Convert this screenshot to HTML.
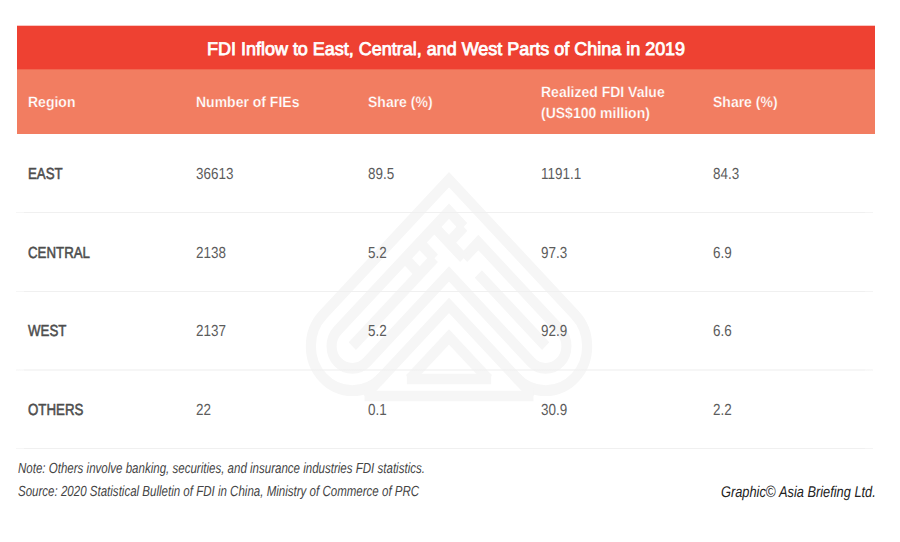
<!DOCTYPE html>
<html><head><meta charset="utf-8">
<style>
html,body{margin:0;padding:0;background:#fff;}
body{width:900px;height:542px;position:relative;overflow:hidden;font-family:"Liberation Sans",sans-serif;text-rendering:geometricPrecision;}
.a{position:absolute;white-space:nowrap;line-height:1;transform-origin:0 0;}
#red{position:absolute;left:17px;top:25px;width:858px;height:45px;background:linear-gradient(to bottom,#fac6c2 0,#fac6c2 1px,#ee4132 1px,#ee4132 44px,#f16851 44px);}
#sal{position:absolute;left:17px;top:70px;width:858px;height:64px;background:#f27d61;}
.title{color:#fff;font-size:18.3px;-webkit-text-stroke:0.8px #fff;transform:scaleX(0.983);}
.hd{color:#fff;font-size:15px;font-weight:bold;transform:scaleX(0.933);-webkit-text-stroke:0.25px #f27d61;}
.lab{color:#4d4d4d;font-size:16px;-webkit-text-stroke:0.55px #4d4d4d;transform:scaleX(0.83);}
.num{color:#5c5c5c;font-size:16px;transform:scaleX(0.84);}
.line{position:absolute;left:16px;width:857px;height:1px;background:linear-gradient(to right,#f6f6f6 0,#f6f6f6 8px,#f0f0f0 8px,#f0f0f0 849px,#f4f4f4 849px);}
.note{color:#444;font-style:italic;font-size:14.7px;transform:scaleX(0.785);}
.cr{color:#222;font-style:italic;font-size:15.5px;transform:scaleX(0.826);}
</style></head>
<body>
<div id="red"></div>
<div id="sal"></div>
<svg id="wm" width="900" height="542" style="position:absolute;left:0;top:0">
<g fill="none" stroke="#f6f6f6" stroke-width="10.5">
<g transform="matrix(-0.682 0.731 0.682 0.731 449 172)">
<path d="M 91.25,91.25 L 91.25,190 A 43 43 0 0 1 5.25,190 L 5.25,5.25 L 190,5.25 A 43 43 0 0 1 190,91.25 Z"/>
<path d="M 26.75,48.25 L 26.75,26.75 L 190,26.75 A 21.5 21.5 0 0 1 190,69.75 L 69.75,69.75 L 69.75,190 A 21.5 21.5 0 0 1 26.75,190 L 26.75,69.75 L 48.25,69.75"/>
<path d="M 48.25,26.75 L 48.25,69.75 M 48.25,91.25 L 48.25,190"/>
<path d="M 69.75,48.25 L 190,48.25 M 26.75,48.25 L 48.25,48.25"/>
<path d="M 91.25,26.75 L 91.25,48.25 M 69.75,26.75 L 69.75,48.25"/>
<path d="M 112.75,170.4 L 112.75,112.75 L 170.4,112.75"/>
<path d="M 91.25,185 L 91.25,215 M 185,91.25 L 215,91.25"/>
</g>
<path d="M 364.6,396 L 533.4,396 M 406.9,379 L 491.1,379"/>
</g></svg>
<div class="a t title" style="left:207px;top:40px;">FDI Inflow to East, Central, and West Parts of China in 2019</div>
<div class="a t hd" style="left:28px;top:95px;">Region</div>
<div class="a t hd" style="left:196px;top:95px;">Number of FIEs</div>
<div class="a t hd" style="left:368px;top:95px;">Share (%)</div>
<div class="a t hd" style="left:541px;top:85px;">Realized FDI Value</div>
<div class="a t hd" style="left:541px;top:106px;">(US$100 million)</div>
<div class="a t hd" style="left:713px;top:95px;">Share (%)</div>

<div class="line" style="top:212px"></div>
<div class="line" style="top:291px"></div>
<div class="line" style="top:369px;height:2px;opacity:0.6"></div>
<div class="line" style="top:448px"></div>

<div class="a t lab" style="left:28px;top:167px;">EAST</div>
<div class="a t num" style="left:196px;top:167px;">36613</div>
<div class="a t num" style="left:368px;top:167px;">89.5</div>
<div class="a t num" style="left:541px;top:167px;">1191.1</div>
<div class="a t num" style="left:713px;top:167px;">84.3</div>

<div class="a t lab" style="left:28px;top:246px;">CENTRAL</div>
<div class="a t num" style="left:196px;top:246px;">2138</div>
<div class="a t num" style="left:368px;top:246px;">5.2</div>
<div class="a t num" style="left:541px;top:246px;">97.3</div>
<div class="a t num" style="left:713px;top:246px;">6.9</div>

<div class="a t lab" style="left:28px;top:324px;">WEST</div>
<div class="a t num" style="left:196px;top:324px;">2137</div>
<div class="a t num" style="left:368px;top:324px;">5.2</div>
<div class="a t num" style="left:541px;top:324px;">92.9</div>
<div class="a t num" style="left:713px;top:324px;">6.6</div>

<div class="a t lab" style="left:28px;top:403px;">OTHERS</div>
<div class="a t num" style="left:196px;top:403px;">22</div>
<div class="a t num" style="left:368px;top:403px;">0.1</div>
<div class="a t num" style="left:541px;top:403px;">30.9</div>
<div class="a t num" style="left:713px;top:403px;">2.2</div>

<div class="a t note" style="left:18px;top:462px;">Note: Others involve banking, securities, and insurance industries FDI statistics.</div>
<div class="a t note" style="left:18px;top:485px;">Source: 2020 Statistical Bulletin of FDI in China, Ministry of Commerce of PRC</div>
<div class="a t cr" style="left:721px;top:484.7px;">Graphic<span style="font-style:normal;font-size:16.5px;line-height:0">©</span> Asia Briefing Ltd.</div>
</body></html>
